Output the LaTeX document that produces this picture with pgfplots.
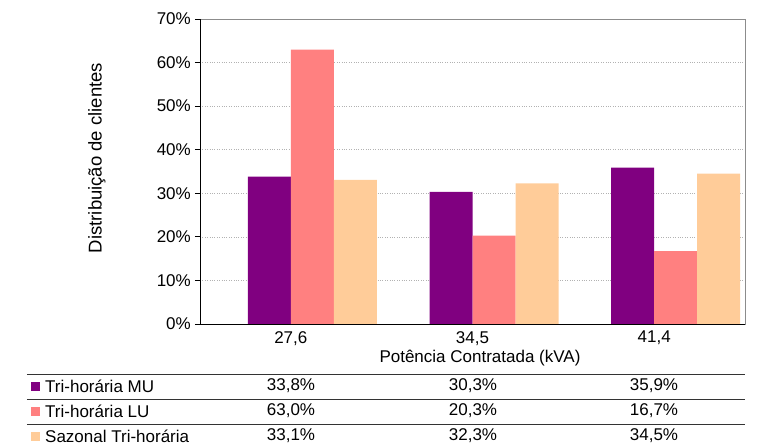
\documentclass[border=0pt]{standalone}
\usepackage{pgfplots}
\pgfplotsset{compat=1.18}
\usepackage{fontspec}
\setmainfont{Liberation Sans}
\definecolor{cMU}{HTML}{800080}
\definecolor{cLU}{HTML}{FF8080}
\definecolor{cSZ}{HTML}{FFCC99}
\newcommand{\fs}{\fontsize{17}{20}\selectfont}
\begin{document}
\begin{tikzpicture}[x=1pt,y=1pt]
\begin{axis}[
  at={(0,0)}, anchor=south west,
  scale only axis, width=545pt, height=305pt,
  ybar=0pt, bar width=43pt,
  xmin=-0.5, xmax=2.5, ymin=0, ymax=70,
  xtick={0,1,2}, xticklabels={{27,6},{34,5},{41,4}},
  ytick={0,10,20,30,40,50,60,70},
  yticklabels={0\%,10\%,20\%,30\%,40\%,50\%,60\%,70\%},
  ticklabel style={font=\fs},
  xtick style={draw=none},
  ytick style={draw=black, line width=0.8pt},
  ytick pos=left, tick align=outside, major tick length=5pt,
  yticklabel style={inner sep=0pt, xshift=-4pt},
  xticklabel style={inner sep=0pt, yshift=-2pt},
  ymajorgrids, grid style={gray!60, dotted, line width=0.6pt},
  axis line style={gray!90, line width=0.8pt},
  clip=false,
]
\addplot[fill=cMU, draw=none, bar shift=-21.5pt] coordinates {(0,33.8) (1,30.3) (2,35.9)};
\addplot[fill=cLU, draw=none, bar shift=21.5pt] coordinates {(0,63.0) (1,20.3) (2,16.7)};
\addplot[fill=cSZ, draw=none, bar shift=64.5pt] coordinates {(0,33.1) (1,32.3) (2,34.5)};
\draw[black, line width=0.8pt] (rel axis cs:0,1) -- (rel axis cs:0,0) -- (rel axis cs:1,0);
\end{axis}
% axis labels
\node[rotate=90, font=\fontsize{18.5}{21}\selectfont] at (-103,166) {Distribuição de clientes};
\node[font=\fs] at (280,-34) {Potência Contratada (kVA)};
% data table
\draw[black!80, line width=0.9pt] (-173,-50) -- (545,-50);
\draw[black!80, line width=0.9pt] (-173,-75) -- (545,-75);
\draw[black!80, line width=0.9pt] (-173,-100) -- (545,-100);
\fill[cMU] (-169,-66.5) rectangle ++(9,9);
\fill[cLU] (-169,-91.5) rectangle ++(9,9);
\fill[cSZ] (-169,-116.5) rectangle ++(9,9);
\node[font=\fs, anchor=west, inner sep=0pt] at (-155,-62) {Tri-horária MU};
\node[font=\fs, anchor=west, inner sep=0pt] at (-155,-87) {Tri-horária LU};
\node[font=\fs, anchor=west, inner sep=0pt] at (-155,-112) {Sazonal Tri-horária};
\node[font=\fs] at (91,-62) {33,8\%};
\node[font=\fs] at (273,-62) {30,3\%};
\node[font=\fs] at (454,-62) {35,9\%};
\node[font=\fs] at (91,-87) {63,0\%};
\node[font=\fs] at (273,-87) {20,3\%};
\node[font=\fs] at (454,-87) {16,7\%};
\node[font=\fs] at (91,-112) {33,1\%};
\node[font=\fs] at (273,-112) {32,3\%};
\node[font=\fs] at (454,-112) {34,5\%};
\pgfresetboundingbox
\useasboundingbox (-200,-120) rectangle (557,324);
\end{tikzpicture}
\end{document}
